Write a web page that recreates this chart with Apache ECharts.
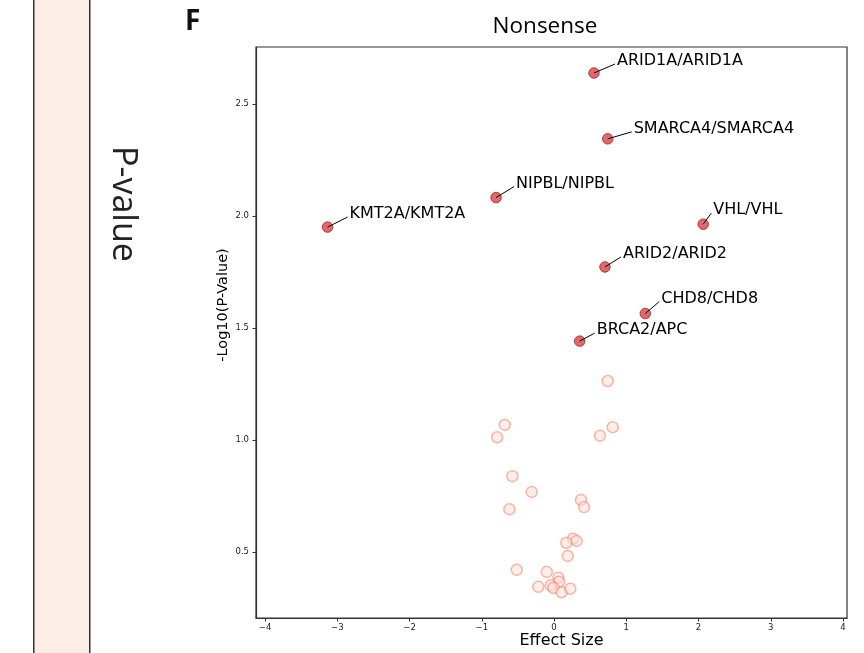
<!DOCTYPE html>
<html>
<head>
<meta charset="utf-8">
<script src="https://cdn.jsdelivr.net/npm/echarts@6/dist/echarts.min.js"></script>
<style>
  html, body { margin: 0; padding: 0; background: #fff; }
  #chart { width: 864px; height: 653px; }
</style>
</head>
<body>
<div id="chart"></div>
<script>
// ---- data ----
const sigGenes = ['ARID1A/ARID1A', 'SMARCA4/SMARCA4', 'NIPBL/NIPBL', 'KMT2A/KMT2A', 'VHL/VHL', 'ARID2/ARID2', 'CHD8/CHD8', 'BRCA2/APC'];
const sigEffect = [0.553, 0.743, -0.802, -3.135, 2.065, 0.705, 1.263, 0.355];
const sigLogP = [2.638, 2.344, 2.082, 1.950, 1.963, 1.772, 1.564, 1.441];

const nsEffect = [0.743, -0.682, -0.788, 0.812, 0.636, -0.576, -0.309, -0.618, 0.373, 0.415, 0.263, 0.313, 0.170, 0.189, -0.516, -0.101, 0.060, 0.069, -0.217, -0.046, -0.009, 0.106, 0.226];
const nsLogP = [1.263, 1.067, 1.012, 1.057, 1.019, 0.838, 0.768, 0.691, 0.732, 0.700, 0.559, 0.549, 0.541, 0.482, 0.420, 0.411, 0.385, 0.367, 0.344, 0.351, 0.339, 0.320, 0.336];

const xTicks = [-4, -3, -2, -1, 0, 1, 2, 3, 4];
const yTicks = [0.5, 1.0, 1.5, 2.0, 2.5];

// ---- layout (label pixel offsets from each highlighted point) ----
const labelOffsets = [[23, -12], [26, -10], [20, -14], [22, -13], [10, -14], [18, -13], [16, -15], [17, -11]];

const sigData = sigEffect.map((x, i) => [x, sigLogP[i]]);
const nsData = nsEffect.map((x, i) => [x, nsLogP[i]]);

const chart = echarts.init(document.getElementById('chart'), null, { renderer: 'canvas' });

const option = {
  animation: false,
  backgroundColor: '#ffffff',
  grid: {
    left: 256, right: 17, top: 47, bottom: 35,
    show: true, borderColor: '#333', borderWidth: 1.2, backgroundColor: 'transparent'
  },
  xAxis: {
    type: 'value',
    min: -4.125, max: 4.055,
    axisLine: { show: true, onZero: false, lineStyle: { color: '#333', width: 1.2 } },
    axisTick: { show: true, length: 3.5, customValues: xTicks, lineStyle: { color: '#333', width: 1 } },
    axisLabel: {
      customValues: xTicks, fontSize: 8.5, color: '#222', fontFamily: 'DejaVu Sans', margin: 5,
      formatter: v => String(v).replace('-', '\u2212')
    },
    splitLine: { show: false }
  },
  yAxis: {
    type: 'value',
    min: 0.205, max: 2.754,
    axisLine: { show: true, onZero: false, lineStyle: { color: '#333', width: 1.2 } },
    axisTick: { show: true, length: 3.5, customValues: yTicks, lineStyle: { color: '#333', width: 1 } },
    axisLabel: {
      customValues: yTicks, fontSize: 8.5, color: '#222', fontFamily: 'DejaVu Sans', margin: 7,
      formatter: v => Number(v).toFixed(1)
    },
    splitLine: { show: false }
  },
  graphic: [
    { type: 'rect', left: 33, top: -2, shape: { x: 0, y: 0, width: 56, height: 660 },
      style: { fill: '#fcede7', stroke: '#333', lineWidth: 1.5 }, z: 0 },
    { type: 'text', x: 122.5, y: 204, rotation: -Math.PI / 2,
      style: { text: 'P-value', fontSize: 34, fontFamily: 'Open Sans', fill: '#222', align: 'center', verticalAlign: 'middle' } },
    { type: 'text', x: 185, y: 22,
      style: { text: 'F', fontSize: 28, fontWeight: 'bold', fontFamily: 'Open Sans', fill: '#111', align: 'left', verticalAlign: 'middle' } },
    { type: 'text', x: 545, y: 27,
      style: { text: 'Nonsense', fontSize: 22.5, fontFamily: 'Open Sans', fill: '#000', align: 'center', verticalAlign: 'middle' } },
    { type: 'text', x: 561.5, y: 641,
      style: { text: 'Effect Size', fontSize: 16, fontFamily: 'DejaVu Sans', fill: '#000', align: 'center', verticalAlign: 'middle' } },
    { type: 'text', x: 223, y: 305, rotation: Math.PI / 2,
      style: { text: '-Log10(P-Value)', fontSize: 14.5, fontFamily: 'DejaVu Sans', fill: '#000', align: 'center', verticalAlign: 'middle' } }
  ],
  series: [
    {
      type: 'scatter',
      data: nsData,
      symbol: 'circle',
      symbolSize: 11,
      itemStyle: { color: 'rgba(253,222,212,0.65)', borderColor: 'rgba(243,135,110,0.75)', borderWidth: 1.5 },
      z: 2
    },
    {
      type: 'scatter',
      data: sigData,
      symbol: 'circle',
      symbolSize: 10.5,
      itemStyle: { color: '#d84347', borderColor: '#a11f22', borderWidth: 1 },
      z: 3
    },
    {
      type: 'custom',
      data: sigData,
      z: 4,
      renderItem: function (params, api) {
        const p = api.coord([api.value(0), api.value(1)]);
        const off = labelOffsets[params.dataIndex];
        const tx = p[0] + off[0];
        const ty = p[1] + off[1];
        return {
          type: 'group',
          children: [
            { type: 'line', shape: { x1: p[0], y1: p[1], x2: tx - 2, y2: ty + 3 },
              style: { stroke: '#000', lineWidth: 1 } },
            { type: 'text', style: { text: sigGenes[params.dataIndex], x: tx, y: ty,
              fontSize: 16, fontFamily: 'DejaVu Sans', fill: '#000', align: 'left', verticalAlign: 'middle' } }
          ]
        };
      }
    }
  ]
};

chart.setOption(option);
</script>
</body>
</html>
